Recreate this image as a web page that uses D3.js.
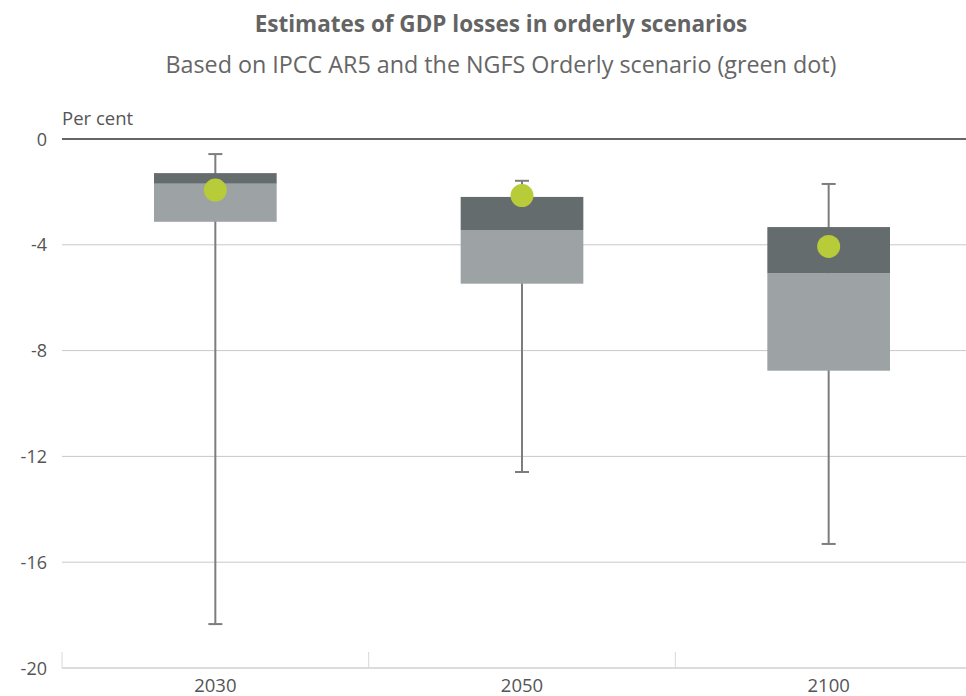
<!DOCTYPE html>
<html><head><meta charset="utf-8">
<script src="https://cdn.jsdelivr.net/npm/d3@7"></script>
<style>body{margin:0;background:#fff}svg{display:block}</style>
</head><body>
<svg id="c" width="966" height="696"></svg>
<script>
const categories = ["2030", "2050", "2100"];
const whiskerTop = [-0.57, -1.58, -1.70];
const boxTop = [-1.29, -2.19, -3.33];
const boxMid = [-1.69, -3.44, -5.07];
const boxBottom = [-3.13, -5.47, -8.76];
const whiskerBottom = [-18.34, -12.59, -15.31];
const ngfsDot = [-1.93, -2.14, -4.06];
const yTicks = [0, -4, -8, -12, -16, -20];

const font = "'Open Sans', sans-serif";
const svg = d3.select("#c");
const mLeft = 62, mRight = 966, mTop = 139, mBottom = 668;

const x = d3.scaleBand().domain(categories).range([mLeft, 982]).paddingInner(0).paddingOuter(0);
const y = d3.scaleLinear().domain([-20, 0]).range([mBottom, mTop]);

// title
svg.append("text").attr("x", 501).attr("y", 32).attr("text-anchor", "middle")
  .attr("font-family", font).attr("font-weight", "bold").attr("font-size", 22.5)
  .attr("fill", "#646464").text("Estimates of GDP losses in orderly scenarios");
svg.append("text").attr("x", 501).attr("y", 73).attr("text-anchor", "middle")
  .attr("font-family", font).attr("font-size", 23.3)
  .attr("fill", "#666").text("Based on IPCC AR5 and the NGFS Orderly scenario (green dot)");
svg.append("text").attr("x", 62).attr("y", 125)
  .attr("font-family", font).attr("font-size", 18.5)
  .attr("fill", "#555").text("Per cent");

// gridlines
svg.append("g").selectAll("line").data(yTicks.filter(d => d !== 0 && d !== -20)).join("line")
  .attr("x1", mLeft).attr("x2", mRight).attr("y1", d => y(d)).attr("y2", d => y(d))
  .attr("stroke", "#c8c8c8").attr("stroke-width", 1);

// bottom axis
svg.append("line").attr("x1", mLeft).attr("x2", mRight).attr("y1", y(-20)).attr("y2", y(-20))
  .attr("stroke", "#d0d0d0").attr("stroke-width", 1.5);
svg.append("g").selectAll("line").data(categories).join("line")
  .attr("x1", d => x(d)).attr("x2", d => x(d)).attr("y1", y(-20) - 16).attr("y2", y(-20))
  .attr("stroke", "#d8d8d8").attr("stroke-width", 1);
svg.append("g").selectAll("text").data(categories).join("text")
  .attr("x", d => x(d) + x.bandwidth() / 2).attr("y", 692).attr("text-anchor", "middle")
  .attr("font-family", font).attr("font-size", 18.5).attr("fill", "#555").text(d => d);

// y tick labels
svg.append("g").selectAll("text").data(yTicks).join("text")
  .attr("x", 47).attr("y", d => y(d) + 6.5).attr("text-anchor", "end")
  .attr("font-family", font).attr("font-size", 18).attr("fill", "#555").text(d => d);

const bw = x.bandwidth() * 0.4;
const g = svg.append("g");
categories.forEach((c, i) => {
  const cx = x(c) + x.bandwidth() / 2;
  g.append("line").attr("x1", cx).attr("x2", cx).attr("y1", y(whiskerTop[i])).attr("y2", y(whiskerBottom[i]))
    .attr("stroke", "#7b7d7e").attr("stroke-width", 2);
  [whiskerTop[i], whiskerBottom[i]].forEach(v => {
    g.append("line").attr("x1", cx - 7).attr("x2", cx + 7).attr("y1", y(v)).attr("y2", y(v))
      .attr("stroke", "#7b7d7e").attr("stroke-width", 2);
  });
  g.append("rect").attr("x", cx - bw / 2).attr("width", bw)
    .attr("y", y(boxMid[i])).attr("height", y(boxBottom[i]) - y(boxMid[i])).attr("fill", "#9da2a4");
  g.append("rect").attr("x", cx - bw / 2).attr("width", bw)
    .attr("y", y(boxTop[i])).attr("height", y(boxMid[i]) - y(boxTop[i])).attr("fill", "#656c6d");
  g.append("circle").attr("cx", cx).attr("cy", y(ngfsDot[i])).attr("r", 11.5).attr("fill", "#b8cb38");
});

// zero line
svg.append("line").attr("x1", mLeft).attr("x2", mRight).attr("y1", y(0)).attr("y2", y(0))
  .attr("stroke", "#333").attr("stroke-width", 1.5);
</script>
</body></html>
